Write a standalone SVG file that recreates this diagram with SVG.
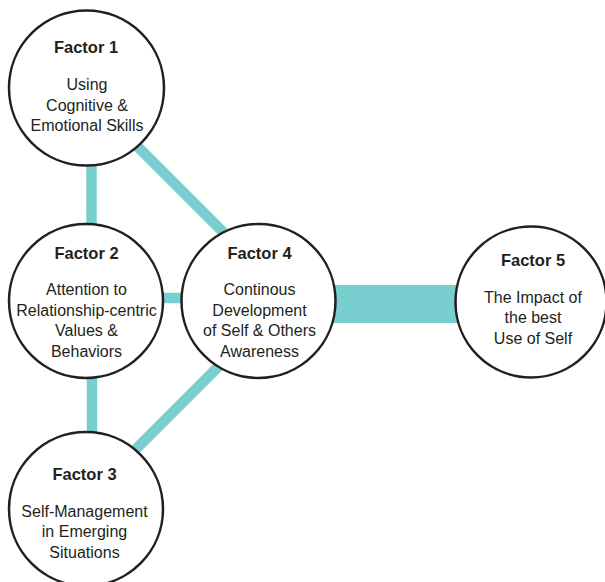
<svg xmlns="http://www.w3.org/2000/svg" width="605" height="582" viewBox="0 0 605 582">
  <style>
    .link { stroke: #79cfd0; stroke-width: 10.5; fill: none; }
    .wide { fill: #79cfd0; }
    .node { fill: #ffffff; stroke: #231f20; stroke-width: 2.5; }
    text { font-family: "Liberation Sans", Arial, sans-serif; fill: #231f20; text-anchor: middle; }
    .title { font-size: 16.5px; font-weight: bold; }
    .body { font-size: 16px; }
  </style>
  <rect width="605" height="582" fill="#ffffff"/>

  <g id="connectors">
    <line class="link" x1="91.5" y1="150" x2="91.5" y2="240"/>
    <line class="link" x1="120" y1="129" x2="240" y2="249"/>
    <line class="link" x1="150" y1="298" x2="200" y2="298"/>
    <line class="link" x1="92" y1="360" x2="92" y2="450"/>
    <line class="link" x1="240" y1="345" x2="110" y2="475"/>
    <rect class="wide" x="320" y="285" width="150" height="38"/>
  </g>

  <g id="factor1">
    <circle class="node" cx="86.5" cy="88" r="77.5"/>
    <text class="title" x="86" y="52.5">Factor 1</text>
    <text class="body" x="87" y="90">Using</text>
    <text class="body" x="87" y="110.5">Cognitive &amp;</text>
    <text class="body" x="87" y="131">Emotional Skills</text>
  </g>

  <g id="factor2">
    <circle class="node" cx="86" cy="301" r="77"/>
    <text class="title" x="86.5" y="258.5">Factor 2</text>
    <text class="body" x="86.5" y="295">Attention to</text>
    <text class="body" x="86.5" y="315.5">Relationship-centric</text>
    <text class="body" x="86.5" y="336">Values &amp;</text>
    <text class="body" x="86.5" y="356.5">Behaviors</text>
  </g>

  <g id="factor3">
    <circle class="node" cx="86" cy="509" r="77"/>
    <text class="title" x="84.5" y="480">Factor 3</text>
    <text class="body" x="84.5" y="516.5">Self-Management</text>
    <text class="body" x="84.5" y="537">in Emerging</text>
    <text class="body" x="84.5" y="557.5">Situations</text>
  </g>

  <g id="factor4">
    <circle class="node" cx="258.5" cy="301" r="77"/>
    <text class="title" x="259.5" y="258.5">Factor 4</text>
    <text class="body" x="259.5" y="295">Continous</text>
    <text class="body" x="259.5" y="315.5">Development</text>
    <text class="body" x="259.5" y="336">of Self &amp; Others</text>
    <text class="body" x="259.5" y="356.5">Awareness</text>
  </g>

  <g id="factor5">
    <circle class="node" cx="531" cy="302" r="75.5"/>
    <text class="title" x="533" y="266">Factor 5</text>
    <text class="body" x="533" y="302.5">The Impact of</text>
    <text class="body" x="533" y="323">the best</text>
    <text class="body" x="533" y="343.5">Use of Self</text>
  </g>
</svg>
